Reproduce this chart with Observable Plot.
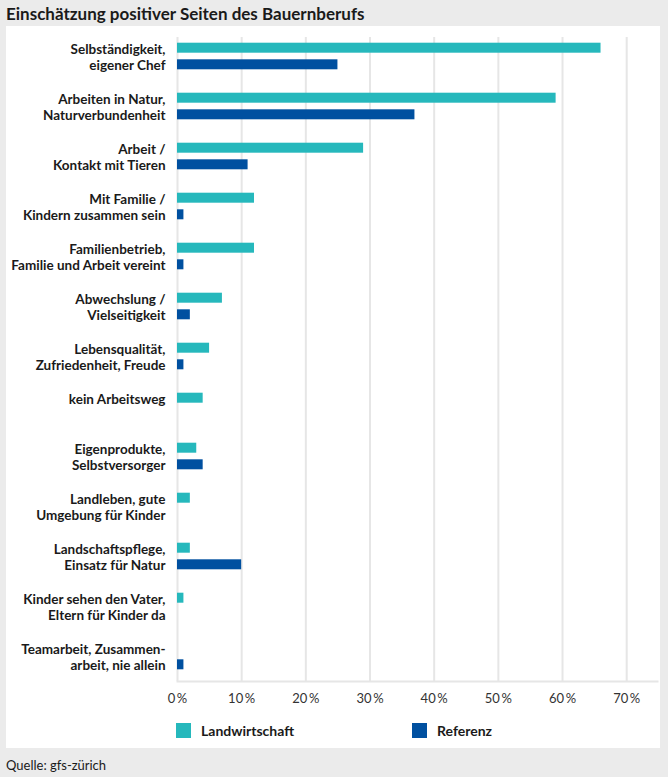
<!DOCTYPE html>
<html>
<head>
<meta charset="utf-8">
<script src="https://cdn.jsdelivr.net/npm/d3@7"></script>
<script src="https://cdn.jsdelivr.net/npm/@observablehq/plot@0.6"></script>
<style>
  html, body { margin: 0; padding: 0; }
  body { width: 668px; height: 777px; background: #ebebeb; position: relative; overflow: hidden;
         font-family: Lato, sans-serif; color: #1a1a1a; }
  #title { position: absolute; left: 6px; top: 3px; font-size: 17px; font-weight: bold; white-space: nowrap; }
  #panel { position: absolute; left: 6px; top: 26px; width: 654px; height: 722px; background: #fff; }
  #chart { position: absolute; left: 0; top: 0; }
  #legend { position: absolute; left: 170px; top: 696px; display: flex; }
  .item { width: 236px; display: flex; align-items: center; font-size: 14px; font-weight: bold; }
  .sw { width: 15px; height: 15px; margin-right: 10px; }
  #source { position: absolute; left: 6px; top: 757px; font-size: 13px; }
</style>
</head>
<body>
<div id="title">Einschätzung positiver Seiten des Bauernberufs</div>
<div id="panel"><div id="chart"></div><div id="legend"></div></div>
<div id="source">Quelle: gfs-zürich</div>
<script>
const categories = [
  "Selbständigkeit,\neigener Chef",
  "Arbeiten in Natur,\nNaturverbundenheit",
  "Arbeit /\nKontakt mit Tieren",
  "Mit Familie /\nKindern zusammen sein",
  "Familienbetrieb,\nFamilie und Arbeit vereint",
  "Abwechslung /\nVielseitigkeit",
  "Lebensqualität,\nZufriedenheit, Freude",
  "kein Arbeitsweg",
  "Eigenprodukte,\nSelbstversorger",
  "Landleben, gute\nUmgebung für Kinder",
  "Landschaftspflege,\nEinsatz für Natur",
  "Kinder sehen den Vater,\nEltern für Kinder da",
  "Teamarbeit, Zusammen-\narbeit, nie allein"
];
const landwirtschaft = [66, 59, 29, 12, 12, 7, 5, 4, 3, 2, 2, 1, null];
const referenz       = [25, 37, 11, 1, 1, 2, 1, null, 4, null, 10, null, 1];
const seriesNames = ["Landwirtschaft", "Referenz"];
const seriesColors = ["#26b8bc", "#0050a0"];
const xTicks = [0, 10, 20, 30, 40, 50, 60, 70];

const rowsL = categories.map((c, i) => ({category: c, value: landwirtschaft[i]})).filter(d => d.value != null);
const rowsR = categories.map((c, i) => ({category: c, value: referenz[i]})).filter(d => d.value != null);

const font = "Lato, sans-serif";

const chart = Plot.plot({
  width: 654,
  height: 690,
  marginTop: 5,
  marginBottom: 35,
  marginLeft: 171,
  marginRight: 3,
  style: {fontFamily: font, color: "#1a1a1a", background: "transparent"},
  x: {domain: [0, 74.8]},
  y: {domain: categories, padding: 0},
  marks: [
    Plot.ruleX(xTicks, {stroke: "#e6e6e6", strokeWidth: 2, insetTop: 6}),
    Plot.frame({anchor: "bottom", stroke: "#e6e6e6", strokeWidth: 2}),
    Plot.barX(rowsL, {x: "value", y: "category", fill: seriesColors[0], insetTop: 11.7, insetBottom: 28.3}),
    Plot.barX(rowsR, {x: "value", y: "category", fill: seriesColors[1], insetTop: 28.3, insetBottom: 11.7}),
    Plot.axisY({tickSize: 0, tickPadding: 12, label: null, fontSize: 13.5, fontWeight: "bold", lineHeight: 1.24,
      tickFormat: d => d.includes("\n") ? d : d + "\n"}),
    Plot.axisX({ticks: xTicks, tickSize: 0, tickPadding: 12, label: null, fontSize: 13, fill: "#333",
      tickFormat: d => d + "\u2009%"})
  ]
});
document.getElementById("chart").appendChild(chart);

const legend = document.getElementById("legend");
seriesNames.forEach((name, i) => {
  const item = document.createElement("div");
  item.className = "item";
  const sw = document.createElement("span");
  sw.className = "sw";
  sw.style.background = seriesColors[i];
  item.appendChild(sw);
  item.appendChild(document.createTextNode(name));
  legend.appendChild(item);
});
</script>
</body>
</html>
